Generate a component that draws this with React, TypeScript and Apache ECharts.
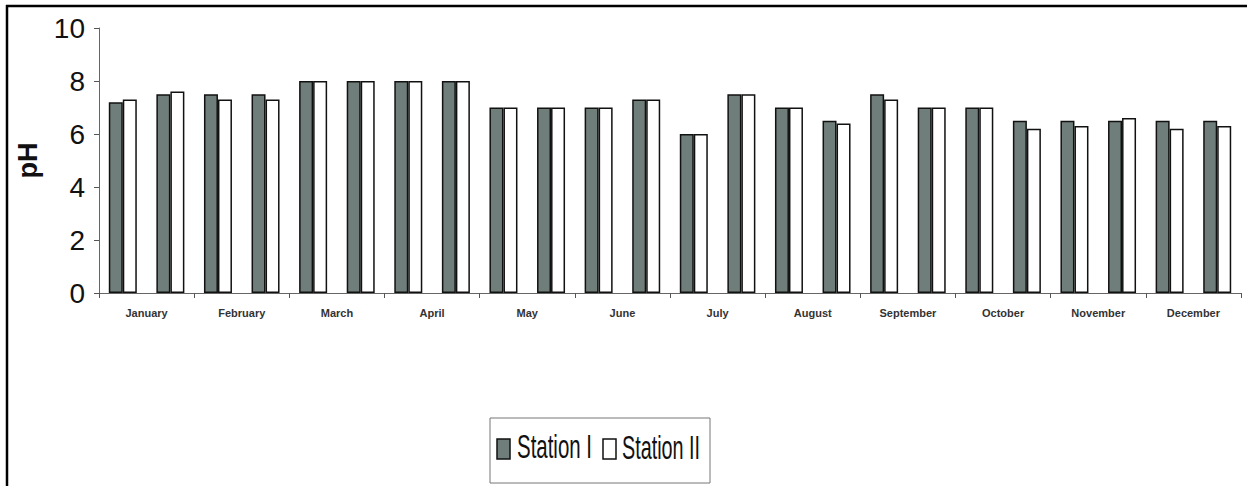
import React, { useEffect, useRef } from "react";
import * as echarts from "echarts";

const months = ["January", "February", "March", "April", "May", "June", "July", "August", "September", "October", "November", "December"];
const samples = months.flatMap((m) => [m + " I", m + " II"]);
const stationI = [7.2, 7.5, 7.5, 7.5, 8, 8, 8, 8, 7, 7, 7, 7.3, 6, 7.5, 7, 6.5, 7.5, 7, 7, 6.5, 6.5, 6.5, 6.5, 6.5];
const stationII = [7.3, 7.6, 7.3, 7.3, 8, 8, 8, 8, 7, 7, 7, 7.3, 6, 7.5, 7, 6.4, 7.3, 7, 7, 6.2, 6.3, 6.6, 6.2, 6.3];
const yTicks = [0, 2, 4, 6, 8, 10];
const seriesNames = ["Station I", "Station II"];
const seriesColors = ["#6f7e7a", "#ffffff"];

const SANS = "'Liberation Sans', Arial, sans-serif";

export default function App() {
  const ref = useRef<HTMLDivElement>(null);
  useEffect(() => {
    if (!ref.current) return;
    const chart = echarts.init(ref.current, null, { renderer: "svg" });
    chart.setOption({
      animation: false,
      backgroundColor: "#ffffff",
      grid: { left: 99, right: 6, top: 28, bottom: 193 },
      xAxis: [
        {
          type: "category",
          data: samples,
          axisLine: { show: true, lineStyle: { color: "#666", width: 1 } },
          axisTick: { show: true, length: 5, lineStyle: { color: "#555" } },
          axisLabel: { show: false },
        },
        {
          type: "category",
          data: months,
          position: "bottom",
          axisLine: { show: false },
          axisTick: { show: false },
          axisLabel: { margin: 14, fontSize: 11, fontWeight: "bold", color: "#333", fontFamily: SANS },
        },
      ],
      yAxis: {
        type: "value",
        min: yTicks[0],
        max: yTicks[yTicks.length - 1],
        interval: 2,
        name: "pH",
        nameLocation: "middle",
        nameRotate: 90,
        nameGap: 58,
        nameTextStyle: { fontSize: 27, fontWeight: "bold", color: "#111", fontFamily: SANS },
        splitLine: { show: false },
        axisLine: { show: true, lineStyle: { color: "#666", width: 1 } },
        axisTick: { show: true, length: 5, lineStyle: { color: "#555" } },
        axisLabel: { fontSize: 28, color: "#111", margin: 14, fontFamily: SANS },
      },
      series: [
        {
          name: seriesNames[0],
          type: "bar",
          xAxisIndex: 0,
          data: stationI,
          barWidth: 14,
          barGap: "0%",
          itemStyle: { color: seriesColors[0], borderColor: "#111", borderWidth: 1.5 },
        },
        {
          name: seriesNames[1],
          type: "bar",
          xAxisIndex: 0,
          data: stationII,
          barWidth: 14,
          barGap: "0%",
          itemStyle: { color: seriesColors[1], borderColor: "#111", borderWidth: 1.5 },
        },
      ],
      graphic: [
        { type: "line", shape: { x1: 7, y1: 5, x2: 7, y2: 486 }, style: { stroke: "#000", lineWidth: 2.5 } },
        { type: "line", shape: { x1: 6, y1: 6, x2: 1247, y2: 6 }, style: { stroke: "#000", lineWidth: 2.5 } },
        { type: "rect", shape: { x: 490, y: 418, width: 220, height: 65 }, style: { fill: "none", stroke: "#777", lineWidth: 1 } },
        { type: "rect", shape: { x: 497, y: 439, width: 13, height: 20 }, style: { fill: seriesColors[0], stroke: "#111", lineWidth: 1.5 } },
        {
          type: "text", x: 517, y: 447, scaleX: 0.62,
          style: { text: seriesNames[0], font: "33px " + SANS, fill: "#111", textVerticalAlign: "middle" },
        },
        { type: "rect", shape: { x: 603, y: 439, width: 13, height: 20 }, style: { fill: seriesColors[1], stroke: "#111", lineWidth: 1.5 } },
        {
          type: "text", x: 622, y: 447, scaleX: 0.6,
          style: { text: seriesNames[1], font: "33px " + SANS, fill: "#111", textVerticalAlign: "middle" },
        },
      ],
    });
    return () => chart.dispose();
  }, []);
  return (
    <div
      ref={ref}
      style={{ position: "fixed", left: 0, top: 0, width: 1247, height: 486 }}
    />
  );
}
